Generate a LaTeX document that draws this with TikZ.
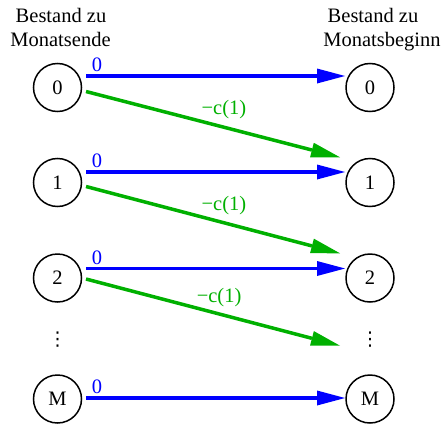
\documentclass[tikz,border=0pt]{standalone}
\usepackage{fontspec}
\setmainfont{Liberation Serif}
\newfontfamily\symfont{DejaVu Sans}
\usetikzlibrary{arrows.meta}
\definecolor{flowblue}{RGB}{0,0,255}
\definecolor{flowgreen}{RGB}{0,176,0}
\begin{document}
\begin{tikzpicture}[x=1pt,y=1pt,
  every node/.style={font=\fontsize{20.5}{24}\selectfont},
  state/.style={circle, draw, line width=1.5pt, minimum size=48pt, inner sep=0pt},
  keep/.style={draw=flowblue, line width=3.5pt,
    -{Triangle[length=28pt,width=15pt,line width=0pt]}},
  cost/.style={draw=flowgreen, line width=3.5pt,
    -{Triangle[length=29pt,width=15pt,line width=0pt]}},
  zerolbl/.style={text=flowblue, anchor=base west, inner sep=0pt},
  costlbl/.style={text=flowgreen, anchor=base, inner sep=0pt},
  head/.style={anchor=base, inner sep=0pt},
  ellip/.style={inner sep=0pt, font=\symfont\fontsize{19}{19}\selectfont}]
\useasboundingbox (0,0) rectangle (446,424);

% column headers
\node[head] (hl1) at (61,401) {Bestand zu};
\node[head] (hl2) at (60.5,377.3) {Monatsende};
\node[head] (hr1) at (373,401) {Bestand zu};
\node[head] (hr2) at (382,377.3) {Monatsbeginn};

% stock at month end
\node[state] (L0) at (57.5,336.5) {0};
\node[state] (L1) at (57.5,241.5) {1};
\node[state] (L2) at (57.5,146) {2};
\node[ellip] (Ld) at (57.5,84) {⋮};
\node[state] (LM) at (57.5,25) {M};

% stock at month start
\node[state] (R0) at (370,336.5) {0};
\node[state] (R1) at (370,241.5) {1};
\node[state] (R2) at (370,146) {2};
\node[ellip] (Rd) at (370,84) {⋮};
\node[state] (RM) at (370,25) {M};

% no order: stock carried over at zero cost
\draw[keep] ([shift={(28.5,11.5)}]L0.center) -- node[zerolbl, at start, xshift=4pt, yshift=4.3pt] {0} ([shift={(-25,11.5)}]R0.center);
\draw[keep] ([shift={(28.5,10.5)}]L1.center) -- node[zerolbl, at start, xshift=4pt, yshift=4.3pt] {0} ([shift={(-25,10.5)}]R1.center);
\draw[keep] ([shift={(28.5,9.5)}]L2.center) -- node[zerolbl, at start, xshift=4pt, yshift=4.3pt] {0} ([shift={(-25,9.5)}]R2.center);
\draw[keep] ([shift={(28.5,1)}]LM.center) -- node[zerolbl, at start, xshift=4pt, yshift=4.3pt] {0} ([shift={(-25,1)}]RM.center);

% one unit ordered at cost c(1)
\draw[cost] ([shift={(28.5,-4)}]L0.center) -- node[costlbl, pos=0.543, yshift=12.5pt] {−c(1)} ([shift={(-30,25.2)}]R1.center);
\draw[cost] ([shift={(28.5,-4)}]L1.center) -- node[costlbl, pos=0.543, yshift=12.5pt] {−c(1)} ([shift={(-30,24.7)}]R2.center);
\draw[cost] ([shift={(28.5,-1)}]L2.center) -- node[costlbl, pos=0.524, yshift=11pt] {−c(1)} ([shift={(-30,-5.7)}]Rd.center);
\end{tikzpicture}
\end{document}
